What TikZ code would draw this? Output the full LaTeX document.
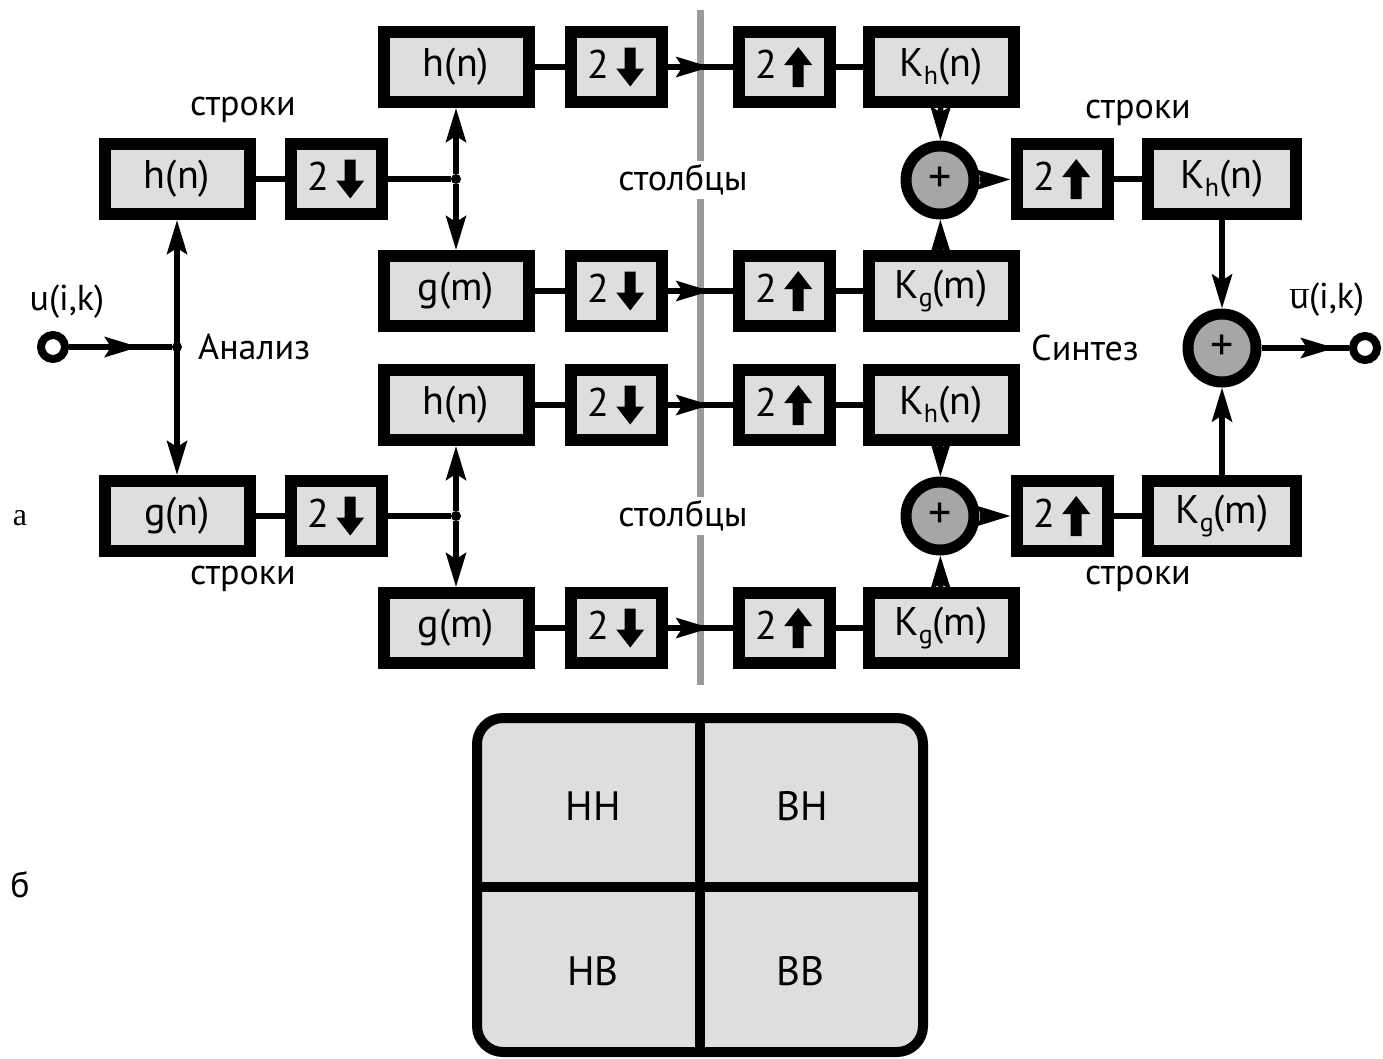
\documentclass[tikz,border=0pt]{standalone}
\usepackage{fontspec}
\setmainfont{PT Sans}
\newfontfamily\serifA{Liberation Serif}
\usetikzlibrary{arrows.meta,decorations.markings}
\definecolor{boxgray}{HTML}{DDDEE0}
\definecolor{sumgray}{HTML}{A6A6A6}
\definecolor{divgray}{HTML}{9A9A9A}
\newcommand\dnar{\tikz[baseline=0pt,x=1pt,y=1pt]\fill[black] (-5.5,31)--(5.5,31)--(5.5,10)--(14,10)--(0,-8)--(-14,10)--(-5.5,10)--cycle;}
\newcommand\upar{\tikz[baseline=0pt,x=1pt,y=1pt]\fill[black] (-5.5,-9)--(5.5,-9)--(5.5,13)--(14,13)--(0,31)--(-14,13)--(-5.5,13)--cycle;}
\newcommand\sbh[1]{\raisebox{-0.4ex}{\fontsize{26}{26}\selectfont #1}}
\begin{document}
\begin{tikzpicture}[x=1pt,y=-1pt,
  box/.style={draw=black, line width=12pt, fill=boxgray, inner sep=0pt,
    minimum height=70pt, font=\fontsize{40}{44}\selectfont},
  wide/.style={box, minimum width=145pt},
  small/.style={box, minimum width=91pt},
  summer/.style={circle, draw=black, line width=11pt, fill=sumgray, inner sep=0pt,
    minimum size=68pt, font=\fontsize{46}{48}\selectfont},
  ring/.style={circle, draw=black, line width=8pt, fill=white, inner sep=0pt, minimum size=24pt},
  dot/.style={circle, fill=black, inner sep=0pt, minimum size=10pt},
  conn/.style={draw=black, line width=5.5pt},
  tip/.style={-{Stealth[length=34pt,width=20pt,inset=6pt]}},
  bitip/.style={{Stealth[length=34pt,width=20pt,inset=6pt]}-{Stealth[length=34pt,width=20pt,inset=6pt]}},
  midarr/.style={postaction={decorate}, decoration={markings,
    mark=at position #1 with {\arrow{Stealth[length=34pt,width=20pt,inset=6pt]}}}},
  lbl/.style={font=\fontsize{36}{40}\selectfont, inner sep=1pt},
  cell/.style={font=\fontsize{41}{44}\selectfont}
]
\fill[white] (0,0) rectangle (1383,1058);
\useasboundingbox (0,0) rectangle (1383,1058);

% dividing gray line
\coordinate (gtop) at (700,10);
\coordinate (gbot) at (700,685);
\draw[divgray, line width=7pt] (gtop) -- (gbot);

% left row stage
\node[wide] (hn) at (177,179) {h(n)};
\node[small] (dsA) at (336,179) {2\,\dnar};
\node[wide] (gn) at (177,516) {g(n)};
\node[small] (dsB) at (336,516) {2\,\dnar};

% column analysis
\node[wide] (c1) at (456,67) {h(n)};
\node[wide] (c3) at (456,291) {g(m)};
\node[wide] (c4) at (456,405) {h(n)};
\node[wide] (c6) at (456,628) {g(m)};
\node[small] (d1) at (616,67) {2\,\dnar};
\node[small] (d3) at (616,291) {2\,\dnar};
\node[small] (d4) at (616,405) {2\,\dnar};
\node[small] (d6) at (616,628) {2\,\dnar};

% column synthesis
\node[small] (u1) at (784,67) {2\,\upar};
\node[small] (u3) at (784,291) {2\,\upar};
\node[small] (u4) at (784,405) {2\,\upar};
\node[small] (u6) at (784,628) {2\,\upar};
\node[wide] (k1) at (941,67) {K\sbh{h}(n)};
\node[wide] (k3) at (941,291) {K\sbh{g}(m)};
\node[wide] (k4) at (941,405) {K\sbh{h}(n)};
\node[wide] (k6) at (941,628) {K\sbh{g}(m)};

% summers
\node[summer] (s2) at (940,180) {+};
\node[summer] (s5) at (940,516) {+};
\node[small] (ur2) at (1062,179) {2\,\upar};
\node[small] (ur5) at (1062,516) {2\,\upar};
\node[box, minimum width=148pt] (kr2) at (1222,179) {K\sbh{h}(n)};
\node[box, minimum width=148pt] (kr5) at (1222,516) {K\sbh{g}(m)};
\node[summer] (fs) at (1222,348) {+};

% input / output
\node[ring] (in) at (53,347) {};
\node[ring] (out) at (1365,348) {};
\node[dot] (j0) at (177,347) {};
\node[dot] (j1) at (456,179) {};
\node[dot] (j2) at (456,516) {};

% connectors: left
\draw[conn, midarr=0.68] (in) -- (j0);
\draw[conn, bitip] (hn) -- (gn);
\draw[conn] (hn) -- (dsA);
\draw[conn] (gn) -- (dsB);
\draw[conn] (dsA) -- (j1);
\draw[conn] (dsB) -- (j2);
\draw[conn, tip] (j1) -- (c1);
\draw[conn, tip] (j1) -- (c3);
\draw[conn, tip] (j2) -- (c4);
\draw[conn, tip] (j2) -- (c6);

% connectors: columns
\foreach \a/\b/\c/\d in {c1/d1/u1/k1, c3/d3/u3/k3, c4/d4/u4/k4, c6/d6/u6/k6}{
  \draw[conn] (\a) -- (\b);
  \draw[conn, midarr=0.66] (\b) -- (\c);
  \draw[conn] (\c) -- (\d);
}
\draw[conn, tip] (k1) -- (s2);
\draw[conn, tip] (k3) -- (s2);
\draw[conn, tip] (k4) -- (s5);
\draw[conn, tip] (k6) -- (s5);
\draw[conn, tip] (s2) -- (ur2);
\draw[conn, tip] (s5) -- (ur5);
\draw[conn] (ur2) -- (kr2);
\draw[conn] (ur5) -- (kr5);
\draw[conn, tip] (kr2) -- (fs);
\draw[conn, tip] (kr5) -- (fs);
\draw[conn, midarr=0.84] (fs) -- (out);

% labels
\node[lbl] (l1) at (243,110) {строки};
\node[lbl] (l2) at (243,579) {строки};
\node[lbl] (l3) at (1138,113) {строки};
\node[lbl] (l4) at (1138,579) {строки};
\node[lbl, fill=white, inner sep=4pt] (l5) at (683,180) {столбцы};
\node[lbl, fill=white, inner sep=4pt] (l6) at (683,516) {столбцы};
\node[lbl, anchor=west] (l7) at (197,347) {Анализ};
\node[lbl] (l8) at (1085,348) {Синтез};
\node[lbl] (l9) at (67,302) {u(i,k)};
\node[lbl] (l10) at (1327,300) {$\overline{\vphantom{k}\hbox{u}}$(i,k)};
\node[lbl, font=\serifA\fontsize{32}{36}\selectfont] (la) at (20,518) {a};
\node[lbl, font=\fontsize{36}{38}\selectfont] (lb) at (20,885) {б};

% bottom partition
\draw[black, line width=10pt, fill=boxgray, rounded corners=26pt] (477,718) rectangle (923,1052);
\draw[black, line width=10pt] (700,718) -- (700,1052);
\draw[black, line width=10pt] (477,887) -- (923,887);
\node[cell] (hh) at (593,806) {НН};
\node[cell] (bh) at (802,806) {ВН};
\node[cell] (hb) at (593,971) {НВ};
\node[cell] (bb) at (800,971) {ВВ};
\end{tikzpicture}
\end{document}
